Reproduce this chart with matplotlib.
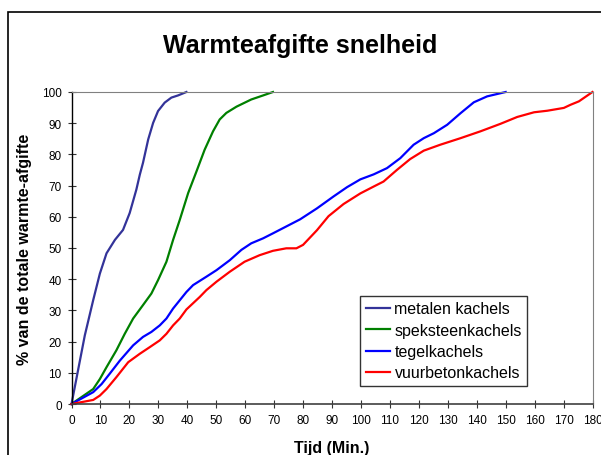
import matplotlib.pyplot as plt
from matplotlib.patches import Rectangle

plt.rcParams['font.family'] = ['Liberation Sans', 'DejaVu Sans']

# === data ===
metalen_x = [0, 4.6, 7.5, 9.8, 12.1, 15.0, 17.8, 20.1, 22.4, 23.6, 24.7, 26.5, 28.2,
             29.9, 32.2, 34.5, 36.8, 39.7]
metalen_y = [0, 22.0, 33.3, 41.8, 48.3, 52.6, 55.8, 61.2, 68.7, 73.5, 77.3, 84.8, 90.1,
             93.9, 96.6, 98.2, 98.9, 100]

speksteen_x = [0, 7.5, 9.8, 12.1, 15.5, 18.4, 21.3, 24.7, 27.6, 29.9, 32.8, 35.1, 37.4,
               40.3, 43.2, 46.0, 48.9, 51.2, 53.5, 57.0, 62.1, 66.2, 69.6]
speksteen_y = [0, 4.8, 8.0, 11.8, 17.2, 22.5, 27.4, 31.7, 35.4, 39.7, 45.6, 52.6, 59.0,
               67.6, 74.6, 81.5, 87.4, 91.2, 93.3, 95.3, 97.6, 98.9, 100]

tegel_x = [0, 7.5, 10.4, 13.2, 16.7, 21.3, 24.7, 27.6, 30.5, 32.8, 35.1, 39.7, 42.0,
           46.6, 50.1, 54.7, 58.7, 62.1, 66.2, 69.6, 74.2, 79.0, 84.8, 90.5, 95.2,
           99.8, 104.4, 109.0, 113.6, 118.2, 121.7, 125.2, 129.8, 134.4, 139.0, 143.6, 150.0]
tegel_y = [0, 3.8, 6.4, 9.7, 13.9, 18.8, 21.5, 23.1, 25.2, 27.4, 30.6, 35.9, 38.1,
           40.8, 42.9, 46.1, 49.4, 51.5, 53.1, 54.7, 56.9, 59.2, 62.7, 66.5, 69.5,
           72.0, 73.6, 75.6, 78.8, 83.1, 85.2, 86.8, 89.5, 93.2, 96.7, 98.6, 100]

vuur_x = [0, 7.5, 9.8, 12.1, 15.5, 19.6, 23.6, 27.0, 30.5, 32.8, 35.1, 37.4, 39.7,
          44.3, 46.6, 50.1, 54.7, 59.8, 65.0, 69.6, 74.2, 77.7, 80.0, 84.8, 88.8,
          94.0, 99.8, 104.4, 107.8, 112.4, 117.0, 121.7, 127.4, 134.4, 141.3, 148.2,
          154.0, 159.8, 164.4, 170.1, 172.4, 175.3, 180]
vuur_y = [0, 1.3, 2.7, 4.8, 8.6, 13.4, 16.1, 18.2, 20.4, 22.5, 25.2, 27.4, 30.3,
          34.3, 36.5, 39.2, 42.4, 45.6, 47.7, 49.1, 49.9, 49.9, 51.0, 55.7, 60.2,
          64.1, 67.5, 69.7, 71.3, 75.0, 78.5, 81.2, 83.1, 85.2, 87.4, 89.8,
          92.0, 93.5, 94.0, 94.9, 95.9, 97.0, 100]

labels = ['metalen kachels', 'speksteenkachels', 'tegelkachels', 'vuurbetonkachels']
colors = ['#333399', '#008000', '#0000ff', '#ff0000']

# === figure ===
fig = plt.figure(figsize=(6.01, 4.56), dpi=100)
ax = fig.add_axes([71.5 / 601, 1 - 405 / 456, 521 / 601, 312 / 456])

# outer frame of the chart (runs off right and bottom)
fig.patches.append(Rectangle((7.5 / 601, -0.1), 1.2, 1.1 - 12.5 / 456,
                             transform=fig.transFigure, fill=False,
                             edgecolor='black', linewidth=1.2))

series = [(metalen_x, metalen_y), (speksteen_x, speksteen_y),
          (tegel_x, tegel_y), (vuur_x, vuur_y)]
for (xs, ys), lab, col in zip(series, labels, colors):
    ax.plot(xs, ys, color=col, linewidth=1.6, label=lab, clip_on=False,
            solid_joinstyle='round')

ax.set_xlim(0, 180)
ax.set_ylim(0, 100)
ax.set_xticks(range(0, 181, 10))
ax.set_yticks(range(0, 101, 10))
ax.tick_params(axis='both', direction='inout', length=6, width=0.8,
               labelsize=8.5, color='#333333')
ax.tick_params(axis='x', pad=4)
ax.tick_params(axis='y', pad=4)

ax.spines['left'].set_color('black')
ax.spines['left'].set_linewidth(1.0)
ax.spines['bottom'].set_color('#404040')
ax.spines['bottom'].set_linewidth(1.2)
ax.spines['top'].set_color('#808080')
ax.spines['right'].set_color('#808080')
ax.spines['top'].set_linewidth(0.8)
ax.spines['right'].set_linewidth(0.8)

ax.set_xlabel('Tijd (Min.)', fontsize=11.5, fontweight='bold', labelpad=10)
ax.set_ylabel('% van de totale warmte-afgifte', fontsize=11.5, fontweight='bold', labelpad=7)

fig.text(0.5, 1 - 46 / 456, 'Warmteafgifte snelheid', ha='center', va='center',
         fontsize=18, fontweight='bold')

leg = ax.legend(loc='upper left', bbox_to_anchor=(0.554, 0.347), borderaxespad=0,
                fontsize=11.5, frameon=True, fancybox=False, handlelength=1.5,
                handletextpad=0.3, labelspacing=0.4, borderpad=0.35)
leg.get_frame().set_edgecolor('black')
leg.get_frame().set_linewidth(1.0)

plt.savefig('out.png', dpi=100)
